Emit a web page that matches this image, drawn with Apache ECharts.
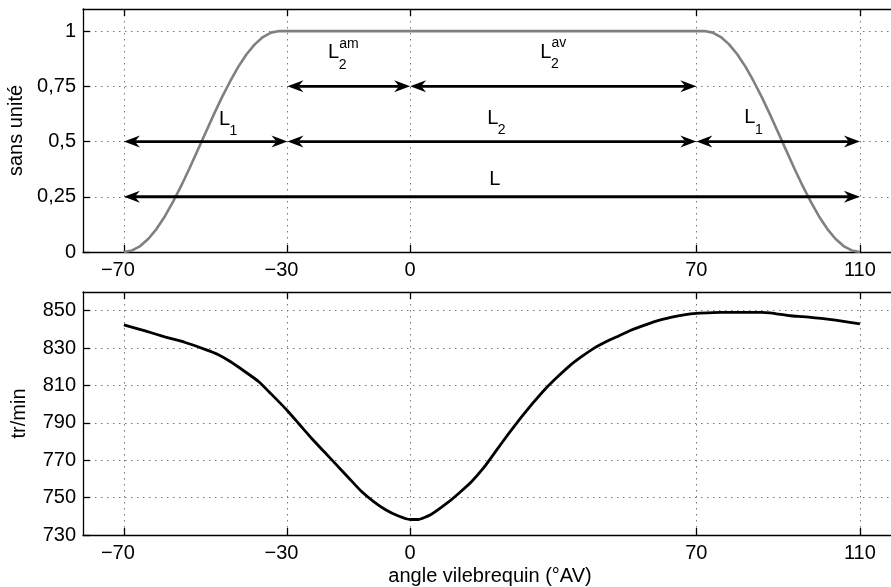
<!DOCTYPE html>
<html>
<head>
<meta charset="utf-8">
<script src="https://cdn.jsdelivr.net/npm/echarts@6/dist/echarts.min.js"></script>
<style>
html,body{margin:0;padding:0;background:#fff;}
#chart{width:891px;height:587px;}
</style>
</head>
<body>
<div id="chart"></div>
<script>
// ---- data ----
const xTicks = [-70, -30, 0, 70, 110];

// top plot: normalised lift profile (sans unité)
const topX = [-70,-68,-66,-64,-62,-60,-58,-56,-54,-52,-50,-48,-46,-44,-42,-40,-38,-36,-34,-32,
              72,74,76,78,80,82,84,86,88,90,92,94,96,98,100,102,104,106,108,110];
const topY = [0,0.007,0.027,0.060,0.105,0.161,0.227,0.299,0.377,0.459,0.541,0.623,0.701,0.773,0.839,0.895,0.940,0.973,0.993,1,
              1,0.993,0.973,0.940,0.895,0.839,0.773,0.701,0.623,0.541,0.459,0.377,0.299,0.227,0.161,0.105,0.060,0.027,0.007,0];

// arrows (double-headed) in the top plot
const arrowFrom = [-30, 0, -70, -30, 70, -70];
const arrowTo   = [0, 70, -30, 70, 110, 110];
const arrowY    = [0.75, 0.75, 0.5, 0.5, 0.5, 0.25];

// arrow labels
const labelX   = [-45.4, 83.1, 20.2, 20.7, -18.7, 33.2];
const labelY   = [0.600, 0.607, 0.604, 0.328, 0.902, 0.904];
const labelSub = ['1', '1', '2', '', '2', '2'];
const labelSup = ['', '', '', '', 'am', 'av'];

// bottom plot: engine speed (tr/min)
const rpmX = [-70,-65,-60,-55,-50,-47,-44,-40,-37,-34,-30,-27,-24,-21,-18,-15,-12,-9,-6,-3,0,2,5,9,12,15,18,21,24,27,30,33,36,39,42,45,48,51,54,57,60,64,67,70,74,78,82,86,88,90,93,96,99,102,106,110];
const rpmY = [842.4,839.3,836,833,829.2,826.6,822.8,816.8,812,805.5,796.5,789,781.5,774.5,767.5,760.5,753.5,748,743.5,740.3,738.3,738.3,740.8,747,752.5,758.5,766,775,784,792.5,800.5,808,814.5,820.5,825.5,830,833.5,836.5,839.5,842,844.3,846.5,847.8,848.6,849,849.1,849.1,849.1,848.8,848.2,847.3,846.8,846.2,845.5,844.3,843];

// ---- chart ----
const FONT = "'Liberation Sans', Arial, Helvetica, sans-serif";
const FS = 20;
const chart = echarts.init(document.getElementById('chart'), null, {renderer: 'canvas'});

const splitStyle = {show: true, lineStyle: {color: '#777', width: 1, type: [1.5, 4.5]}};
const axisLineStyle = {show: true, onZero: false, lineStyle: {color: '#000', width: 1.3}};

function xFormatter(v) {
  if (v < 0) return '{n|\u2212' + Math.abs(v) + '}';
  return '{p|' + v + '}';
}
const xRich = {
  n: {fontSize: FS, fontFamily: FONT, color: '#000', padding: [0, 12, 0, 0]},
  p: {fontSize: FS, fontFamily: FONT, color: '#000'}
};

const X_MIN = -80, X_MAX = 117.6;

function bottomX(grid, withName) {
  const ax = {
    type: 'value', gridIndex: grid, position: 'bottom', min: X_MIN, max: X_MAX,
    axisLine: axisLineStyle,
    axisTick: {show: true, inside: true, length: 7, customValues: xTicks, lineStyle: {color: '#000', width: 1.3}},
    axisLabel: {show: true, customValues: xTicks, formatter: xFormatter, rich: xRich, margin: 8,
                fontSize: FS, fontFamily: FONT, color: '#000'},
    splitLine: splitStyle
  };
  if (withName) {
    ax.name = 'angle vilebrequin (°AV)';
    ax.nameLocation = 'middle';
    ax.nameGap = 31;
    ax.nameTextStyle = {fontSize: FS, fontFamily: FONT, color: '#000', padding: [0, 0, 0, 6]};
  }
  return ax;
}
function topXAxis(grid) {
  return {
    type: 'value', gridIndex: grid, position: 'top', min: X_MIN, max: X_MAX,
    axisLine: axisLineStyle,
    axisTick: {show: true, inside: true, length: 7, customValues: xTicks, lineStyle: {color: '#000', width: 1.3}},
    axisLabel: {show: false},
    splitLine: {show: false}
  };
}

const option = {
  animation: false,
  backgroundColor: '#fff',
  grid: [
    {left: 83, top: 9, width: 808, height: 243, outerBoundsMode: 'none', containLabel: false},
    {left: 83, top: 292, width: 808, height: 243, outerBoundsMode: 'none', containLabel: false}
  ],
  xAxis: [bottomX(0, false), topXAxis(0), bottomX(1, true), topXAxis(1)],
  yAxis: [
    {
      type: 'value', gridIndex: 0, min: 0, max: 1.1, interval: 0.25,
      name: 'sans unité', nameLocation: 'middle', nameGap: 52,
      nameTextStyle: {fontSize: FS, fontFamily: FONT, color: '#000'},
      axisLine: axisLineStyle,
      axisTick: {show: true, inside: true, length: 7, lineStyle: {color: '#000', width: 1.3}},
      axisLabel: {showMaxLabel: false, margin: 7, fontSize: FS, fontFamily: FONT, color: '#000',
                  formatter: v => (v > 1.05 ? '' : String(v).replace('.', ','))},
      splitLine: splitStyle
    },
    {
      type: 'value', gridIndex: 1, min: 730, max: 860, interval: 20,
      name: 'tr/min', nameLocation: 'middle', nameGap: 54,
      nameTextStyle: {fontSize: FS, fontFamily: FONT, color: '#000'},
      axisLine: axisLineStyle,
      axisTick: {show: true, inside: true, length: 7, lineStyle: {color: '#000', width: 1.3}},
      axisLabel: {showMaxLabel: false, margin: 7, fontSize: FS, fontFamily: FONT, color: '#000',
                  formatter: v => (v > 855 ? '' : String(v))},
      splitLine: splitStyle
    }
  ],
  series: [
    {
      type: 'line', xAxisIndex: 0, yAxisIndex: 0, showSymbol: false, symbol: 'none',
      data: topX.map((x, i) => [x, topY[i]]),
      lineStyle: {color: '#808080', width: 2.6}, z: 3
    },
    {
      type: 'custom', xAxisIndex: 0, yAxisIndex: 0, z: 4,
      encode: {x: [0, 1], y: 2},
      data: arrowFrom.map((a, i) => [a, arrowTo[i], arrowY[i]]),
      renderItem: function (params, api) {
        const p1 = api.coord([api.value(0), api.value(2)]);
        const p2 = api.coord([api.value(1), api.value(2)]);
        const L = 16, W = 6, N = 11;
        const head = (tip, d) => [[tip[0], tip[1]], [tip[0] + d * L, tip[1] - W],
                                  [tip[0] + d * N, tip[1]], [tip[0] + d * L, tip[1] + W]];
        return {
          type: 'group',
          children: [
            {type: 'line', shape: {x1: p1[0] + N, y1: p1[1], x2: p2[0] - N, y2: p2[1]},
             style: {stroke: '#000', lineWidth: 2.8}},
            {type: 'polygon', shape: {points: head(p1, 1)}, style: {fill: '#000'}},
            {type: 'polygon', shape: {points: head(p2, -1)}, style: {fill: '#000'}}
          ]
        };
      }
    },
    {
      type: 'custom', xAxisIndex: 0, yAxisIndex: 0, z: 5,
      data: labelX.map((x, i) => [x, labelY[i]]),
      renderItem: function (params, api) {
        const i = params.dataIndex;
        const p = api.coord([api.value(0), api.value(1)]);
        const kids = [
          {type: 'text', x: p[0], y: p[1],
           style: {text: 'L', fontSize: FS, fontFamily: FONT, fill: '#000', align: 'center', verticalAlign: 'middle'}}
        ];
        if (labelSub[i]) kids.push({type: 'text', x: p[0] + 5, y: p[1] + 12,
           style: {text: labelSub[i], fontSize: 14, fontFamily: FONT, fill: '#000', align: 'left', verticalAlign: 'middle'}});
        if (labelSup[i]) kids.push({type: 'text', x: p[0] + 5.5, y: p[1] - 9,
           style: {text: labelSup[i], fontSize: 14, fontFamily: FONT, fill: '#000', align: 'left', verticalAlign: 'middle'}});
        return {type: 'group', children: kids};
      }
    },
    {
      type: 'line', xAxisIndex: 2, yAxisIndex: 1, showSymbol: false, symbol: 'none', smooth: 0.15,
      data: rpmX.map((x, i) => [x, rpmY[i]]),
      lineStyle: {color: '#000', width: 2.8}, z: 3
    }
  ]
};
chart.setOption(option);
</script>
</body>
</html>
